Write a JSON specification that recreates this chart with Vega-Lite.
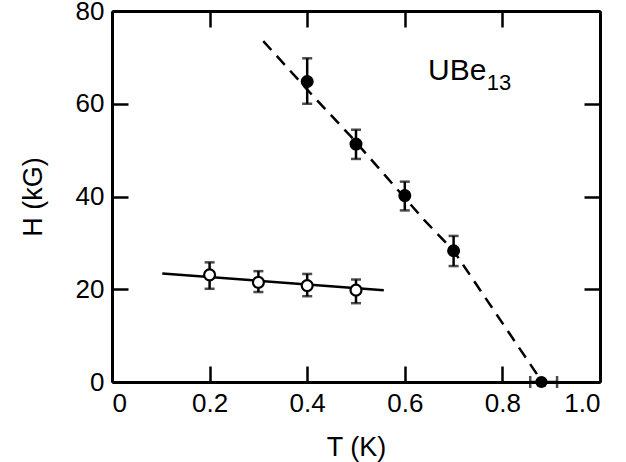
{
  "$schema": "https://vega.github.io/schema/vega-lite/v6.json",
  "width": 488,
  "height": 371,
  "autosize": {"type": "none"},
  "padding": {"left": 112, "top": 11, "right": 26, "bottom": 80},
  "background": "white",
  "config": {
    "view": {"stroke": null},
    "font": "Liberation Sans",
    "axis": {
      "domainColor": "black", "domainWidth": 3, "tickColor": "black", "tickWidth": 2.5,
      "tickSize": -16, "grid": false, "labelColor": "black", "titleColor": "black",
      "labelFont": "Liberation Sans", "titleFont": "Liberation Sans",
      "labelFontSize": 26, "titleFontSize": 27, "titleFontWeight": "normal"
    }
  },
  "datasets": {
    "filled": [
      {"T": 0.4, "H": 64.8, "lo": 60.0, "hi": 69.8},
      {"T": 0.5, "H": 51.3, "lo": 48.1, "hi": 54.4},
      {"T": 0.6, "H": 40.2, "lo": 37.0, "hi": 43.2},
      {"T": 0.7, "H": 28.3, "lo": 25.0, "hi": 31.5}
    ],
    "tc": [{"T": 0.88, "H": 0, "lo": 0.857, "hi": 0.912}],
    "open": [
      {"T": 0.2, "H": 23.1, "lo": 20.1, "hi": 25.8},
      {"T": 0.3, "H": 21.5, "lo": 19.4, "hi": 23.9},
      {"T": 0.4, "H": 20.8, "lo": 18.5, "hi": 23.3},
      {"T": 0.5, "H": 19.8, "lo": 17.0, "hi": 22.1}
    ],
    "dash": [
      {"T": 0.31, "H": 73.5},
      {"T": 0.41, "H": 61.9},
      {"T": 0.49, "H": 52.9},
      {"T": 0.64, "H": 34.9},
      {"T": 0.70, "H": 28.3},
      {"T": 0.872, "H": 1.5}
    ],
    "solid": [
      {"T": 0.103, "H": 23.4},
      {"T": 0.557, "H": 19.8}
    ],
    "label": [
      {"T": 0.6475, "H": 65.1, "txt": "UBe", "kind": "main"},
      {"T": 0.768, "H": 63.0, "txt": "13", "kind": "sub"}
    ]
  },
  "resolve": {"axis": {"x": "independent", "y": "independent"}},
  "layer": [
    {
      "data": {"name": "dash"},
      "mark": {"type": "line", "color": "black", "strokeWidth": 2.5, "strokeDash": [12, 8]},
      "encoding": {
        "x": {"field": "T", "type": "quantitative",
          "scale": {"domain": [0, 1], "nice": false, "zero": false},
          "axis": {"orient": "bottom", "values": [0, 0.2, 0.4, 0.6, 0.8, 1.0], "title": "T (K)",
            "labelExpr": "datum.value == 0 ? '0' : format(datum.value, '.1f')",
            "labelPadding": 24, "titlePadding": 18}},
        "y": {"field": "H", "type": "quantitative",
          "scale": {"domain": [0, 80], "nice": false, "zero": false},
          "axis": {"orient": "left", "values": [0, 20, 40, 60, 80], "title": "H (kG)",
            "labelPadding": 24, "titlePadding": 28}}
      }
    },
    {
      "data": {"name": "solid"},
      "mark": {"type": "line", "color": "black", "strokeWidth": 2.5},
      "encoding": {
        "x": {"field": "T", "type": "quantitative",
          "axis": {"orient": "top", "values": [0, 0.2, 0.4, 0.6, 0.8, 1.0], "labels": false, "title": null}},
        "y": {"field": "H", "type": "quantitative",
          "axis": {"orient": "right", "values": [0, 20, 40, 60, 80], "labels": false, "title": null}}
      }
    },
    {
      "data": {"name": "filled"},
      "mark": {"type": "errorbar", "ticks": {"size": 10, "thickness": 2.5, "color": "black"}, "rule": {"strokeWidth": 2.5, "color": "black"}},
      "encoding": {
        "x": {"field": "T", "type": "quantitative", "axis": null},
        "y": {"field": "lo", "type": "quantitative", "axis": null},
        "y2": {"field": "hi"}
      }
    },
    {
      "data": {"name": "open"},
      "mark": {"type": "errorbar", "ticks": {"size": 10, "thickness": 2.5, "color": "black"}, "rule": {"strokeWidth": 2.5, "color": "black"}},
      "encoding": {
        "x": {"field": "T", "type": "quantitative", "axis": null},
        "y": {"field": "lo", "type": "quantitative", "axis": null},
        "y2": {"field": "hi"}
      }
    },
    {
      "data": {"name": "tc"},
      "mark": {"type": "errorbar", "ticks": {"size": 12, "thickness": 2.5, "color": "black"}, "rule": {"strokeWidth": 2.5, "color": "black"}},
      "encoding": {
        "y": {"field": "H", "type": "quantitative", "axis": null},
        "x": {"field": "lo", "type": "quantitative", "axis": null},
        "x2": {"field": "hi"}
      }
    },
    {
      "data": {"name": "filled"},
      "mark": {"type": "point", "filled": true, "color": "black", "size": 170, "opacity": 1},
      "encoding": {
        "x": {"field": "T", "type": "quantitative", "axis": null},
        "y": {"field": "H", "type": "quantitative", "axis": null}
      }
    },
    {
      "data": {"name": "tc"},
      "mark": {"type": "point", "filled": true, "color": "black", "size": 150, "opacity": 1},
      "encoding": {
        "x": {"field": "T", "type": "quantitative", "axis": null},
        "y": {"field": "H", "type": "quantitative", "axis": null}
      }
    },
    {
      "data": {"name": "open"},
      "mark": {"type": "point", "filled": false, "fill": "white", "fillOpacity": 1, "stroke": "black", "strokeWidth": 2.2, "size": 120, "opacity": 1},
      "encoding": {
        "x": {"field": "T", "type": "quantitative", "axis": null},
        "y": {"field": "H", "type": "quantitative", "axis": null}
      }
    },
    {
      "data": {"name": "label"},
      "transform": [{"filter": "datum.kind == 'main'"}],
      "mark": {"type": "text", "align": "left", "baseline": "alphabetic", "fontSize": 30, "color": "black", "font": "Liberation Sans"},
      "encoding": {
        "x": {"field": "T", "type": "quantitative", "axis": null},
        "y": {"field": "H", "type": "quantitative", "axis": null},
        "text": {"field": "txt"}
      }
    },
    {
      "data": {"name": "label"},
      "transform": [{"filter": "datum.kind == 'sub'"}],
      "mark": {"type": "text", "align": "left", "baseline": "alphabetic", "fontSize": 22, "color": "black", "font": "Liberation Sans"},
      "encoding": {
        "x": {"field": "T", "type": "quantitative", "axis": null},
        "y": {"field": "H", "type": "quantitative", "axis": null},
        "text": {"field": "txt"}
      }
    }
  ]
}
